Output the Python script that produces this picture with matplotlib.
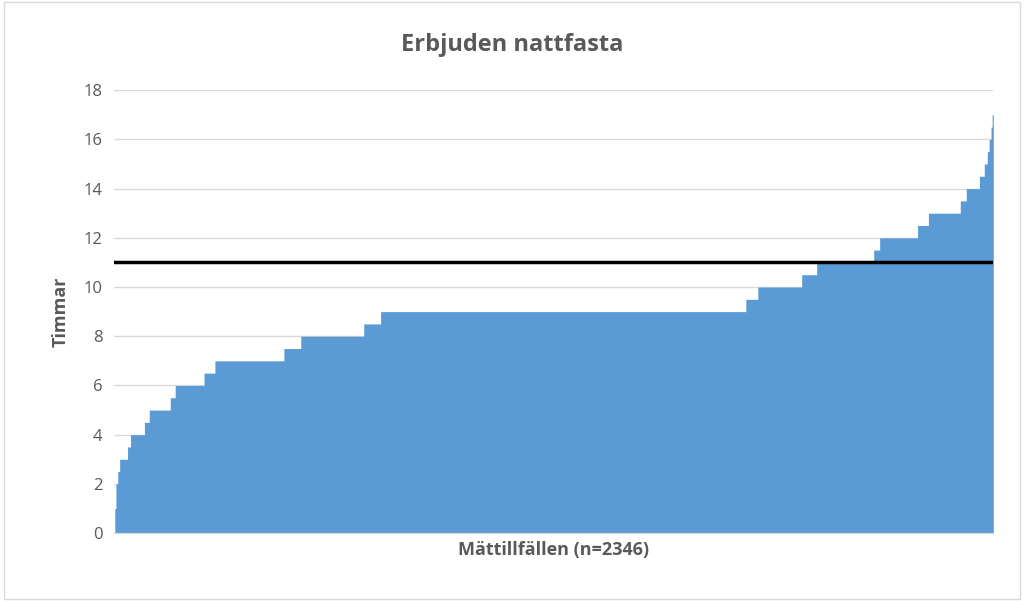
import numpy as np
import matplotlib
matplotlib.use("Agg")
import matplotlib.pyplot as plt
from matplotlib.patches import Rectangle

levels = [0, 1, 2, 2.5, 3, 3.5, 4, 4.5, 5, 5.5, 6, 6.5, 7, 7.5, 8, 8.5, 9, 9.5, 10, 10.5,
          11, 11.5, 12, 12.5, 13, 13.5, 14, 14.5, 15, 15.5, 16, 16.5, 17]
counts = [3, 3, 5, 5, 21, 8, 37, 13, 56, 13, 77, 29, 184, 45, 168, 45, 974, 32, 117, 40,
          152, 16, 101, 29, 85, 16, 35, 13, 8, 5, 5, 3, 3]
threshold = 11
yticks = [0, 2, 4, 6, 8, 10, 12, 14, 16, 18]

values = np.repeat(levels, counts)
x = np.arange(len(values))

plt.rcParams["font.family"] = "Open Sans"
fig = plt.figure(figsize=(10.24, 6.01), dpi=100)
fig.patches.append(Rectangle((0.004, 0.004), 0.992, 0.992, transform=fig.transFigure,
                             fill=False, edgecolor="#d9d9d9", lw=1))
ax = fig.add_axes([0.111, 0.113, 0.859, 0.737])
ax.fill_between(np.append(x, len(values)), np.append(values, values[-1]), step="post",
                color="#5B9BD5", lw=0, zorder=2)
ax.axhline(threshold, color="black", lw=2.5, zorder=3)
ax.set_xlim(0, len(values))
ax.set_ylim(0, 18)
ax.set_yticks(yticks)
ax.set_xticks([])
ax.tick_params(axis="y", length=0, labelsize=12, labelcolor="#595959", pad=8)
ax.grid(axis="y", color="#d9d9d9", lw=1, zorder=0)
for s in ax.spines.values():
    s.set_visible(False)
ax.spines["bottom"].set_visible(True)
ax.spines["bottom"].set_color("#d9d9d9")
ax.set_ylabel("Timmar", fontsize=13, fontweight="bold", color="#595959", labelpad=10)
ax.set_xlabel("Mättillfällen (n=2346)", fontsize=13, fontweight="bold", color="#595959", labelpad=6)
fig.text(0.5, 0.925, "Erbjuden nattfasta", ha="center", va="center", fontsize=17,
         fontweight="bold", color="#595959")
fig.savefig("out.png", dpi=100)
